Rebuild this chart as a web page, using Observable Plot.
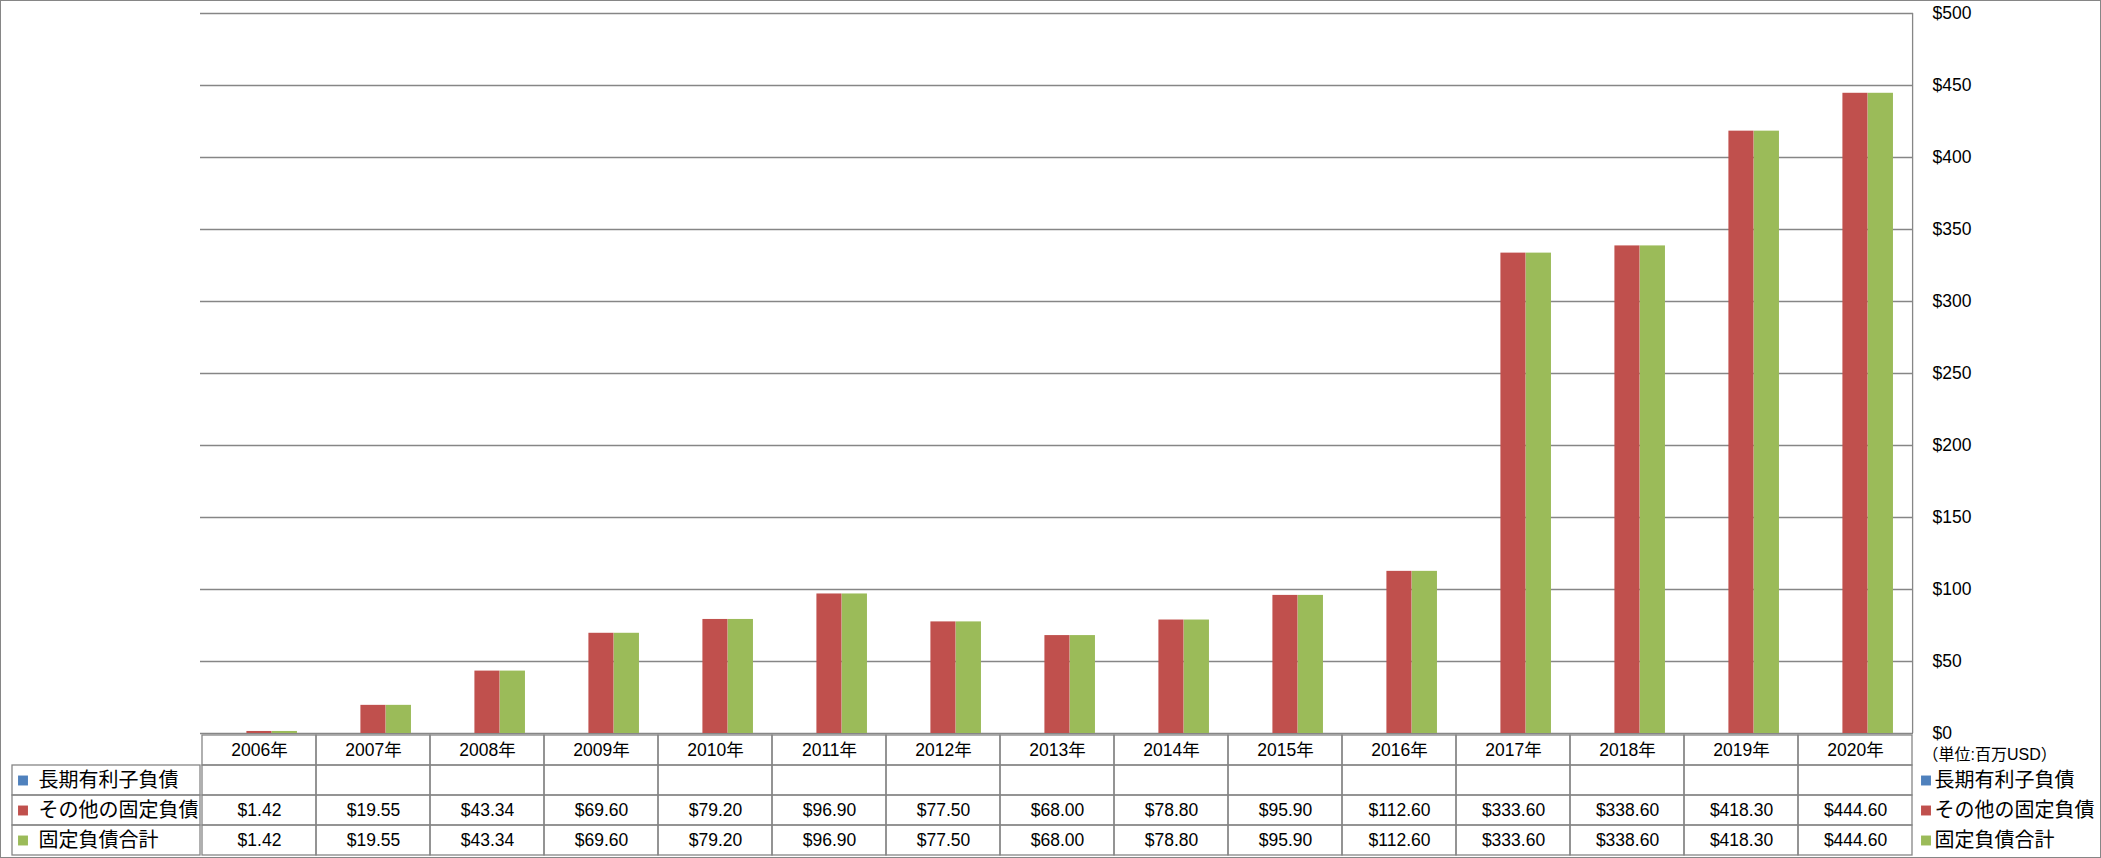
<!DOCTYPE html>
<html>
<head>
<meta charset="utf-8">
<script src="https://cdn.jsdelivr.net/npm/d3@7"></script>
<script src="https://cdn.jsdelivr.net/npm/@observablehq/plot@0.6"></script>
<style>
  html, body { margin: 0; padding: 0; background: #fff; }
  #wrap { position: relative; width: 2101px; height: 858px; overflow: hidden; background: #fff; }
  #wrap > svg, #wrap > figure { position: absolute; left: 0; margin: 0; }
  #border { position: absolute; left: 0; top: 0; width: 2101px; height: 858px; box-sizing: border-box; border: 1px solid #868686; pointer-events: none; }
</style>
</head>
<body>
<div id="wrap"></div>
<script>
// ---- data ----
const years = ["2006年","2007年","2008年","2009年","2010年","2011年","2012年","2013年","2014年","2015年","2016年","2017年","2018年","2019年","2020年"];
const seriesNames = ["長期有利子負債", "その他の固定負債", "固定負債合計"];
const seriesColors = ["#4F81BD", "#C0504D", "#9BBB59"];
const longTermDebt = [null,null,null,null,null,null,null,null,null,null,null,null,null,null,null];
const otherFixed = [1.42, 19.55, 43.34, 69.60, 79.20, 96.90, 77.50, 68.00, 78.80, 95.90, 112.60, 333.60, 338.60, 418.30, 444.60];
const totalFixed = [1.42, 19.55, 43.34, 69.60, 79.20, 96.90, 77.50, 68.00, 78.80, 95.90, 112.60, 333.60, 338.60, 418.30, 444.60];
const seriesValues = [longTermDebt, otherFixed, totalFixed];
const yTicks = [0, 50, 100, 150, 200, 250, 300, 350, 400, 450, 500];
const unitLabel = "（単位:百万USD）";

// ---- layout ----
const W = 2101, ML = 200, MR = 188;
const bw = (W - ML - MR) / years.length;
const barW = bw / 4.5;
const GRAY = "#868686";
const FONT = "'Liberation Sans', 'Noto Sans CJK JP', sans-serif";
const wrap = document.getElementById("wrap");

// ---- main chart ----
const bars = seriesNames.map((name, s) => Plot.barY(
  years.map((y, i) => ({year: y, value: seriesValues[s][i], series: name})).filter(d => d.value != null),
  {x: "year", y: "value", fill: seriesColors[s],
   insetLeft: 0.75 * barW + s * barW,
   insetRight: bw - (0.75 * barW + (s + 1) * barW)}
));

const chart = Plot.plot({
  width: W, height: 741,
  marginTop: 13, marginBottom: 8, marginLeft: ML, marginRight: MR,
  style: {background: "transparent", fontFamily: FONT, fontSize: "17.5px", color: "#000", overflow: "visible"},
  x: {domain: years, padding: 0, axis: null},
  y: {domain: [0, 500], ticks: 10, axis: "right", tickSize: 0, tickPadding: 19, label: null, tickFormat: d => "$" + d},
  marks: [
    Plot.ruleY(yTicks, {stroke: GRAY, strokeWidth: 1.3}),
    Plot.ruleX([years[years.length - 1]], {dx: bw / 2, stroke: GRAY, strokeWidth: 1.3}),
    ...bars
  ]
});
chart.style.top = "0px";
wrap.appendChild(chart);

// ---- data table ----
const rowKeys = ["header", ...seriesNames];
const cells = [];
for (const r of rowKeys) for (const y of years) cells.push({row: r, year: y});
const texts = [];
years.forEach((y, i) => {
  texts.push({row: "header", year: y, label: y});
  seriesNames.forEach((name, s) => {
    const v = seriesValues[s][i];
    texts.push({row: name, year: y, label: v == null ? "" : "$" + v.toFixed(2)});
  });
});

const table = Plot.plot({
  width: W, height: 125,
  marginTop: 0, marginBottom: 2, marginLeft: ML, marginRight: MR,
  style: {background: "transparent", fontFamily: FONT, fontSize: "17.5px", color: "#000", overflow: "visible"},
  x: {domain: years, padding: 0, axis: null},
  y: {domain: rowKeys, padding: 0, axis: null},
  marks: [
    Plot.cell(cells, {x: "year", y: "row", stroke: GRAY, strokeWidth: 1.3, fill: "none"}),
    Plot.ruleX(years, {x: d => d, y: () => "header", insetBottom: 24, dx: 13, stroke: GRAY, strokeWidth: 1.3}),
    Plot.text(texts, {x: "year", y: "row", text: "label", fill: "#000"}),
    // right side legend
    Plot.text([unitLabel], {y: () => "header", text: d => d, frameAnchor: "right", dx: 9, dy: 4, textAnchor: "start", fontSize: 16, fill: "#000"}),
    Plot.dot(seriesNames, {y: d => d, frameAnchor: "right", dx: 12.5, symbol: "square", r: 5.6, fill: (d, i) => seriesColors[i], stroke: null}),
    Plot.text(seriesNames, {y: d => d, text: d => d, frameAnchor: "right", dx: 21, textAnchor: "start", fontSize: 20, fill: "#000"})
  ]
});
table.style.top = "733px";
wrap.appendChild(table);

// ---- left label column of the table ----
const labels = Plot.plot({
  width: ML, height: 125,
  marginTop: 0, marginBottom: 2, marginLeft: 12, marginRight: 0,
  style: {background: "transparent", fontFamily: FONT, fontSize: "20px", color: "#000", overflow: "visible"},
  y: {domain: rowKeys, padding: 0, axis: null},
  marks: [
    Plot.cell(seriesNames, {y: d => d, stroke: GRAY, strokeWidth: 1.3, fill: "none"}),
    Plot.dot(seriesNames, {y: d => d, frameAnchor: "left", dx: 10.5, symbol: "square", r: 5.6, fill: (d, i) => seriesColors[i], stroke: null}),
    Plot.text(seriesNames, {y: d => d, text: d => d, frameAnchor: "left", dx: 26, textAnchor: "start", fill: "#000"})
  ]
});
labels.style.top = "733px";
wrap.appendChild(labels);

const border = document.createElement("div");
border.id = "border";
wrap.appendChild(border);
</script>
</body>
</html>
